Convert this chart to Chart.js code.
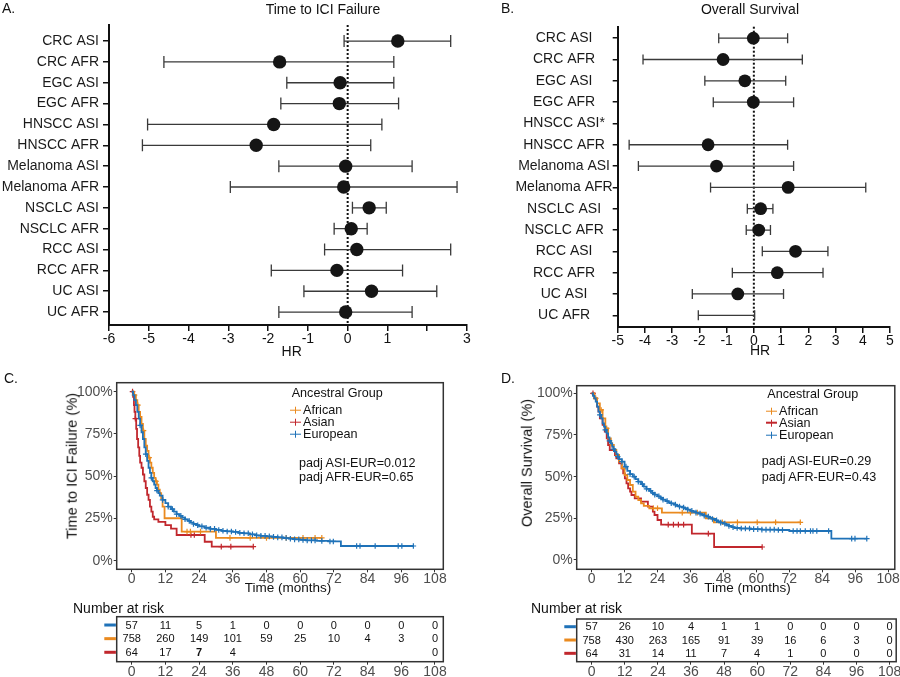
<!DOCTYPE html>
<html><head><meta charset="utf-8">
<script src="https://cdn.jsdelivr.net/npm/chart.js@4.4.0/dist/chart.umd.min.js"></script>
<style>
body{margin:0;background:#fff;}
#wrap{position:relative;width:900px;height:677px;overflow:hidden;background:#fff;font-family:"Liberation Sans",Arial,Helvetica,sans-serif;}
canvas{position:absolute;}
.t{position:absolute;white-space:nowrap;color:#111;line-height:1;z-index:5;}
.c{transform:translate(-50%,-50%);}
.l{transform:translateY(-50%);}
.r{transform:translate(-50%,-50%) rotate(-90deg);}
.sym{display:inline-block;position:relative;width:11px;height:7px;margin-right:2px;vertical-align:middle;}
.sym::before{content:'';position:absolute;left:0;right:0;top:2.75px;height:1.5px;background:var(--c);}
.sym::after{content:'';position:absolute;left:4.75px;width:1.5px;top:0;bottom:0;background:var(--c);}
</style></head><body>
<div id="wrap">
<canvas id="cA" width="480" height="350" style="left:0;top:0"></canvas>
<canvas id="cB" width="430" height="352" style="left:470px;top:0"></canvas>
<canvas id="cC" width="460" height="220" style="left:0;top:370px"></canvas>
<canvas id="cD" width="440" height="220" style="left:460px;top:370px"></canvas>
<canvas id="tC" width="460" height="81" style="left:0;top:596px"></canvas>
<canvas id="tD" width="440" height="81" style="left:460px;top:596px"></canvas>

<div class="t l" style="left:2px;top:8px;font-size:14px">A.</div>
<div class="t c" style="left:323px;top:8.5px;font-size:14px">Time to ICI Failure</div>
<div class="t c" style="left:291.7px;top:350.7px;font-size:14px">HR</div>
<div class="t l" style="left:501px;top:7.5px;font-size:14px">B.</div>
<div class="t c" style="left:750px;top:8.5px;font-size:14px">Overall Survival</div>
<div class="t c" style="left:760px;top:350px;font-size:14px">HR</div>

<div class="t l" style="left:4px;top:378px;font-size:14px">C.</div>
<div class="t r" style="left:72px;top:466px;font-size:14.6px">Time to ICI Failure (%)</div>
<div class="t l" style="left:291.7px;top:393px;font-size:12.6px">Ancestral Group</div>
<div class="t l" style="left:290px;top:410px;font-size:12.6px"><span class="sym" style="--c:#ea8a1f"></span>African</div>
<div class="t l" style="left:290px;top:422px;font-size:12.6px"><span class="sym" style="--c:#c1272d"></span>Asian</div>
<div class="t l" style="left:290px;top:434px;font-size:12.6px"><span class="sym" style="--c:#1f72b8"></span>European</div>
<div class="t l" style="left:299px;top:462.7px;font-size:12.6px">padj ASI-EUR=0.012</div>
<div class="t l" style="left:299px;top:477.3px;font-size:12.6px">padj AFR-EUR=0.65</div>
<div class="t c" style="left:288px;top:588px;font-size:13.5px">Time (months)</div>
<div class="t l" style="left:73px;top:608px;font-size:14px">Number at risk</div>

<div class="t l" style="left:501px;top:378px;font-size:14px">D.</div>
<div class="t r" style="left:526.7px;top:463px;font-size:14.5px">Overall Survival (%)</div>
<div class="t l" style="left:767.3px;top:394px;font-size:12.6px">Ancestral Group</div>
<div class="t l" style="left:766px;top:410.7px;font-size:12.6px"><span class="sym" style="--c:#ea8a1f"></span>African</div>
<div class="t l" style="left:766px;top:422.5px;font-size:12.6px"><span class="sym" style="--c:#c1272d"></span>Asian</div>
<div class="t l" style="left:766px;top:435px;font-size:12.6px"><span class="sym" style="--c:#1f72b8"></span>European</div>
<div class="t l" style="left:761.7px;top:460.7px;font-size:12.6px">padj ASI-EUR=0.29</div>
<div class="t l" style="left:761.7px;top:476.7px;font-size:12.6px">padj AFR-EUR=0.43</div>
<div class="t c" style="left:747.5px;top:588px;font-size:13.5px">Time (months)</div>
<div class="t l" style="left:531px;top:608px;font-size:14px">Number at risk</div>
</div>
<script>
// ---------------- DATA ----------------
// Panel A: Time to ICI failure forest plot
const ttfLabels = ['CRC ASI','CRC AFR','EGC ASI','EGC AFR','HNSCC ASI','HNSCC AFR','Melanoma ASI','Melanoma AFR','NSCLC ASI','NSCLC AFR','RCC ASI','RCC AFR','UC ASI','UC AFR'];
const ttfHR = [1.26,-1.71,-0.19,-0.21,-1.86,-2.30,-0.05,-0.10,0.54,0.09,0.23,-0.27,0.60,-0.05];
const ttfLo = [-0.09,-4.62,-1.53,-1.68,-5.03,-5.16,-1.73,-2.95,0.12,-0.34,-0.58,-1.92,-1.10,-1.73];
const ttfHi = [2.59,1.16,1.16,1.28,0.86,0.58,1.62,2.75,0.97,0.49,2.59,1.38,2.24,1.62];
const ttfTicks = [-6,-5,-4,-3,-2,-1,0,1,2,3];
const ttfTickLabels = ['-6','-5','-4','-3','-2','-1','0','1','','3'];

// Panel B: Overall survival forest plot
const osLabels = ['CRC ASI','CRC AFR','EGC ASI','EGC AFR','HNSCC ASI*','HNSCC AFR','Melanoma ASI','Melanoma AFR','NSCLC ASI','NSCLC AFR','RCC ASI','RCC AFR','UC ASI','UC AFR'];
const osHR = [-0.02,-1.13,-0.33,-0.02,null,-1.68,-1.37,1.26,0.25,0.18,1.53,0.86,-0.59,null];
const osLo = [-1.29,-4.07,-1.80,-1.49,null,-4.58,-4.24,-1.59,-0.24,-0.28,0.31,-0.79,-2.26,-2.04];
const osHi = [1.24,1.78,1.17,1.46,null,1.24,1.46,4.11,0.70,0.61,2.72,2.54,1.09,0.03];
const osTicks = [-5,-4,-3,-2,-1,0,1,2,3,4,5];

// Panel C: KM time to ICI failure  [month, % surviving]
const ttfEUR = [[0,100],[0.5,98],[1,95],[1.5,92],[2,88],[2.5,84],[3,80],[3.5,76],[4,72],[4.5,67],[5,63],[5.5,59],[6,55],[6.5,52],[7,49],[7.5,47],[8,45],[8.5,43],[9,41.5],[9.5,40],[10,38.5],[11,36],[12,34],[13,32],[14,30.5],[15,29],[16,27.5],[17,26.5],[18,25.5],[19,24.5],[20,23.5],[21,22.5],[22,21.7],[23,21],[24,20.3],[26,19.5],[28,18.8],[30,18.2],[32,17.7],[34,17.3],[36,17],[38,16.5],[40,16.2],[42,15.6],[44,15],[46,14.7],[48,14.4],[50,14.1],[52,13.8],[54,13.4],[56,13],[58,12.6],[60,12.3],[62,12],[66,11.7],[70,11.4],[74.5,8.7],[100.3,8.7]];
const ttfEURcens = [3,5,7,9,11,13,14.5,16,17.5,19,20.5,22,23.5,25,26.5,28,29.5,31,32.5,34,35.5,37,38.5,40,41.5,43,44.5,46,47.5,49,50.5,52,53.5,55,56.5,58,59.5,61,62.5,64,65.3,67.7,70.6,71.8,80.1,81.3,86.7,94.9,96.2,100.3];
const ttfAFR = [[0,100],[0.8,98],[1.5,95],[2,92],[2.5,88],[3,85],[3.5,81],[4,77],[4.5,72],[5,68],[5.5,65],[6,61],[6.5,58],[7,55],[7.5,52],[8,49],[8.5,47],[9,45],[9.5,42],[10,40],[10.5,37],[11,32],[11.7,25.1],[17.8,17.2],[30,13.5],[67.7,13.5]];
const ttfAFRcens = [1,2.2,4.2,6.2,8.7,19.7,20.9,24.5,35,42.2,48,55,61,65.3,67.7];
const ttfASI = [[0,100],[0.5,97],[0.8,92],[1,88],[1.3,84],[1.6,78],[1.9,72],[2.3,67],[2.7,62],[3,58],[3.5,55],[4,51],[4.5,47],[5,43],[5.5,39],[6,36],[6.5,32],[7,29],[7.5,26],[8,24.5],[9.5,23],[12,21],[14,19],[16,15.2],[26,11.2],[28.5,8.3],[43.3,8.3]];
const ttfASIcens = [0.3,1.3,21.1,22.3,31.9,35.3,43.3];

// Panel D: KM overall survival
const osEUR = [[0,100],[0.5,98.5],[1,97],[1.5,95],[2,92],[2.5,89],[3,87],[3.5,85],[4,82],[4.5,80],[5,78],[5.5,76],[6,73.5],[6.5,71.5],[7,70],[7.5,68],[8,66.5],[8.5,65],[9,63.5],[9.5,62],[10,60.5],[11,59],[12,56],[13,53.5],[14,51.5],[15,50],[16,48.5],[17,47],[18,45.5],[19,44],[20,42.7],[21,41.5],[22,40.2],[23,39.2],[24,38.2],[25,37.2],[26,36.2],[27,35.3],[28,34.6],[29,34],[30,33.2],[31,32.5],[32,32],[33,31.5],[34,31],[35,30.2],[36,29.5],[37,29],[38,28.4],[39,27.8],[40,27.2],[41,26.6],[42,26],[43,25.3],[44,24.6],[45,23.8],[46,23],[47,22.4],[48,21.8],[49,21],[50,20.4],[51,19.7],[52,19.2],[54,18.9],[58,18.5],[62,18.2],[68,18],[72,17.4],[87.3,12.8],[100.2,12.8]];
const osEURcens = [3,5,6.5,8,9.5,11,12.5,14,15.5,17,18.5,20,21.5,23,24.5,26,27.5,29,30.5,32,33.5,35,36.5,38,39.5,41,42.5,44,45.5,47,48.5,50,51.5,53,54.5,56,57.5,59,60.5,62,63.5,65,66.5,68,69.5,73.4,74.8,76,77.8,79.7,80.6,82,86.3,94.7,95.9,100.2];
const osAFR = [[0,100],[1,97],[2,94],[3,90],[4,85],[5,79],[6,73],[7,69],[8,66],[9,63],[10,59],[11,55],[12,51],[13,48],[14,45],[15,41],[16,38],[17,36],[18,34],[19,32.5],[21,31],[25.6,28.4],[41.6,25],[44.5,22.6],[76,22.6]];
const osAFRcens = [1.5,3.5,5.5,7.5,22.5,24,33,36,38.5,47.6,53.1,60.3,67,76];
const osASI = [[0,100],[1,97],[2,92],[2.5,89],[3,85],[4,81],[4.8,77],[5.5,73],[6,69],[6.6,66],[8.5,63],[9,61],[10,58],[10.9,55],[11.5,52],[12.1,49],[12.7,46],[13.3,43],[14,41],[14.5,39],[15.7,37],[18,35],[20.5,32],[22.3,29],[22.9,27],[24,24],[25.3,21.2],[36.5,15.8],[44.6,7.8],[62.1,7.8]];
const osASIcens = [0.5,27.9,29.8,31.6,33.5,42.5,62.1];

const kmTicksX = [0,12,24,36,48,60,72,84,96,108];
const kmTicksY = [0,25,50,75,100];

// Number-at-risk tables (rows: blue, orange, red)
const riskMonths = [0,12,24,36,48,60,72,84,96,108];
const ttfRiskBlue = [57,11,5,1,0,0,0,0,0,0];
const ttfRiskOrange = [758,260,149,101,59,25,10,4,3,0];
const ttfRiskRed = [64,17,7,4,null,null,null,null,null,0];
const osRiskBlue = [57,26,10,4,1,1,0,0,0,0];
const osRiskOrange = [758,430,263,165,91,39,16,6,3,0];
const osRiskRed = [64,31,14,11,7,4,1,0,0,0];

// ---------------- STYLE ----------------
const FONT = "'Liberation Sans', Arial, Helvetica, sans-serif";
const BLUE = '#1f72b8', ORANGE = '#ea8a1f', RED = '#c1272d';
Chart.defaults.font.family = FONT;

const base = {responsive:false, animation:false, events:[], plugins:{legend:{display:false}, tooltip:{enabled:false}}};

function forestChart(id, labels, hr, lo, hi, ticks, tickLabels, o) {
  const errPlugin = {
    id:'err',
    beforeDatasetsDraw(chart) {
      const {ctx, chartArea:ca, scales:{x, y}} = chart;
      ctx.save();
      const x0 = x.getPixelForValue(0);
      ctx.strokeStyle = '#111'; ctx.lineWidth = 2; ctx.setLineDash([2,2]);
      ctx.beginPath(); ctx.moveTo(x0, ca.top); ctx.lineTo(x0, ca.bottom); ctx.stroke();
      ctx.setLineDash([]);
      ctx.strokeStyle = '#3a3a3a'; ctx.lineWidth = 1.3;
      lo.forEach((l, i) => {
        if (l === null) return;
        const py = y.getPixelForValue(i), a = x.getPixelForValue(l), b = x.getPixelForValue(hi[i]);
        ctx.beginPath();
        ctx.moveTo(a, py); ctx.lineTo(b, py);
        ctx.moveTo(a, py - o.cap); ctx.lineTo(a, py + o.cap);
        ctx.moveTo(b, py - o.cap); ctx.lineTo(b, py + o.cap);
        ctx.stroke();
      });
      ctx.restore();
    }
  };
  return new Chart(document.getElementById(id), {
    type:'scatter',
    data:{datasets:[{data: hr.map((v, i) => ({x:v, y:i})).filter(p => p.x !== null),
      pointRadius:o.r, backgroundColor:'#151515', borderWidth:0}]},
    options:Object.assign({}, base, {
      layout:{padding:{left:0, top:o.top, right:o.right, bottom:0}},
      scales:{
        x:{type:'linear', min:ticks[0], max:ticks[ticks.length-1],
          afterBuildTicks: s => { s.ticks = ticks.map(v => ({value:v})); },
          afterFit: s => { s.height = o.xh; s.paddingLeft = 0; s.paddingRight = 0; },
          ticks:{autoSkip:false, maxRotation:0, padding:0, color:'#111', font:{size:14, lineHeight:1.2},
            callback:(v, i) => tickLabels[i]},
          grid:{display:true, drawOnChartArea:false, drawTicks:true, tickLength:6, color:'#111', lineWidth:1.5},
          border:{display:true, color:'#111', width:2}},
        y:{type:'linear', reverse:true, min:o.ymin, max:o.ymax,
          afterBuildTicks: s => { s.ticks = labels.map((_, i) => ({value:i})); },
          afterFit: s => { s.width = o.yw; s.paddingTop = 0; s.paddingBottom = 0; },
          ticks:{autoSkip:false, padding:o.tpad, crossAlign:o.align, color:'#1a1a1a', font:{size:14},
            callback:(v, i) => labels[i]},
          grid:{display:true, drawOnChartArea:false, drawTicks:true, tickLength:o.tl, color:'#111', lineWidth:1.5},
          border:{display:true, color:'#111', width:2}}
      }
    }),
    plugins:[errPlugin]
  });
}

forestChart('cA', ttfLabels, ttfHR, ttfLo, ttfHi, ttfTicks, ttfTickLabels,
  {top:25, right:13, xh:25, yw:109, ymin:-0.77, ymax:13.62, r:6.7, cap:6, tl:6, tpad:4, align:'near'});
forestChart('cB', osLabels, osHR, osLo, osHi, osTicks, osTicks.map(String),
  {top:26.7, right:10, xh:25, yw:147.7, ymin:-0.54, ymax:13.55, r:6.4, cap:5, tl:5, tpad:0, align:'center'});

function survAt(steps, t) { let s = steps[0][1]; for (const p of steps) { if (p[0] <= t) s = p[1]; } return s; }

const framePlugin = {
  id:'frame',
  afterDraw(chart) {
    const {ctx, chartArea:ca} = chart;
    ctx.save(); ctx.strokeStyle = '#333'; ctx.lineWidth = 1.5;
    ctx.strokeRect(ca.left, ca.top, ca.right - ca.left, ca.bottom - ca.top);
    ctx.restore();
  }
};

function xAxisKM(o) {
  return {type:'linear', min:o.xmin, max:o.xmax,
    afterBuildTicks: s => { s.ticks = kmTicksX.map(v => ({value:v})); },
    afterFit: s => { s.height = o.xh; s.paddingLeft = 0; s.paddingRight = 0; },
    ticks:{autoSkip:false, maxRotation:0, padding:0, color:'#4d4d4d', font:{size:14, lineHeight:1}},
    grid:{display:true, drawOnChartArea:false, drawTicks:true, tickLength:3, color:'#333', lineWidth:1},
    border:{display:false}};
}

function kmChart(id, groups, o) {
  const ds = [];
  groups.forEach(g => {
    ds.push({data:g.steps.map(p => ({x:p[0], y:p[1]})), stepped:'before', borderColor:g.color,
      borderWidth:1.8, pointRadius:0, fill:false});
    ds.push({data:g.cens.map(t => ({x:t, y:survAt(g.steps, t)})), showLine:false, pointStyle:'cross',
      pointRadius:2.8, borderColor:g.color, backgroundColor:g.color, borderWidth:1.2});
  });
  return new Chart(document.getElementById(id), {
    type:'line',
    data:{datasets:ds},
    options:Object.assign({}, base, {
      layout:{padding:{left:0, top:o.top, right:o.right, bottom:0}},
      scales:{
        x:xAxisKM(o),
        y:{type:'linear', min:o.ymin, max:o.ymax,
          afterBuildTicks: s => { s.ticks = kmTicksY.map(v => ({value:v})); },
          afterFit: s => { s.width = o.yw; s.paddingTop = 0; s.paddingBottom = 0; },
          ticks:{padding:1, color:'#4d4d4d', font:{size:14}, callback:v => v + '%'},
          grid:{display:true, drawOnChartArea:false, drawTicks:true, tickLength:3, color:'#333', lineWidth:1},
          border:{display:false}}
      }
    }),
    plugins:[framePlugin]
  });
}

kmChart('cC', [
  {steps:ttfEUR, cens:ttfEURcens, color:BLUE},
  {steps:ttfAFR, cens:ttfAFRcens, color:ORANGE},
  {steps:ttfASI, cens:ttfASIcens, color:RED}
], {top:12.7, right:16.7, xh:20.7, yw:116.7, xmin:-5.34, xmax:110.96, ymin:-5.09, ymax:105.3});

kmChart('cD', [
  {steps:osEUR, cens:osEURcens, color:BLUE},
  {steps:osAFR, cens:osAFRcens, color:ORANGE},
  {steps:osASI, cens:osASIcens, color:RED}
], {top:15.7, right:3.3, xh:20.7, yw:116.7, xmin:-5.43, xmax:110.4, ymin:-5.58, ymax:104.56});

function riskTable(id, rows, colors, bold, o) {
  const tbl = {
    id:'tbl',
    afterDraw(chart) {
      const {ctx, chartArea:ca, scales:{x, y}} = chart;
      ctx.save();
      ctx.strokeStyle = '#333'; ctx.lineWidth = 1.5;
      ctx.strokeRect(ca.left, ca.top, ca.right - ca.left, ca.bottom - ca.top);
      ctx.textAlign = 'center'; ctx.textBaseline = 'middle'; ctx.fillStyle = '#111';
      rows.forEach((r, i) => {
        const py = y.getPixelForValue(i + 1);
        ctx.strokeStyle = colors[i]; ctx.lineWidth = 3;
        ctx.beginPath(); ctx.moveTo(ca.left - 12.4, py); ctx.lineTo(ca.left - 0.8, py); ctx.stroke();
        r.forEach((v, j) => {
          if (v === null) return;
          const isBold = bold.some(b => b[0] === i && b[1] === j);
          ctx.font = (isBold ? 'bold ' : '') + '11px ' + FONT;
          ctx.fillText(String(v), x.getPixelForValue(riskMonths[j]), py + 0.5);
        });
      });
      ctx.restore();
    }
  };
  return new Chart(document.getElementById(id), {
    type:'scatter',
    data:{datasets:[{data:[]}]},
    options:Object.assign({}, base, {
      layout:{padding:{left:o.left, top:o.top, right:o.right, bottom:0}},
      scales:{
        x:xAxisKM(o),
        y:{type:'linear', display:false, reverse:true, min:o.ymin, max:o.ymax}
      }
    }),
    plugins:[tbl]
  });
}

riskTable('tC', [ttfRiskBlue, ttfRiskOrange, ttfRiskRed], [BLUE, ORANGE, RED], [[2,2]],
  {left:116.7, top:20.7, right:16.7, xh:15.3, xmin:-5.34, xmax:110.96, ymin:0.39, ymax:3.69});
riskTable('tD', [osRiskBlue, osRiskOrange, osRiskRed], [BLUE, ORANGE, RED], [],
  {left:116.7, top:23, right:3.8, xh:15.3, xmin:-5.43, xmax:110.4, ymin:0.42, ymax:3.63});
</script>
</body></html>
